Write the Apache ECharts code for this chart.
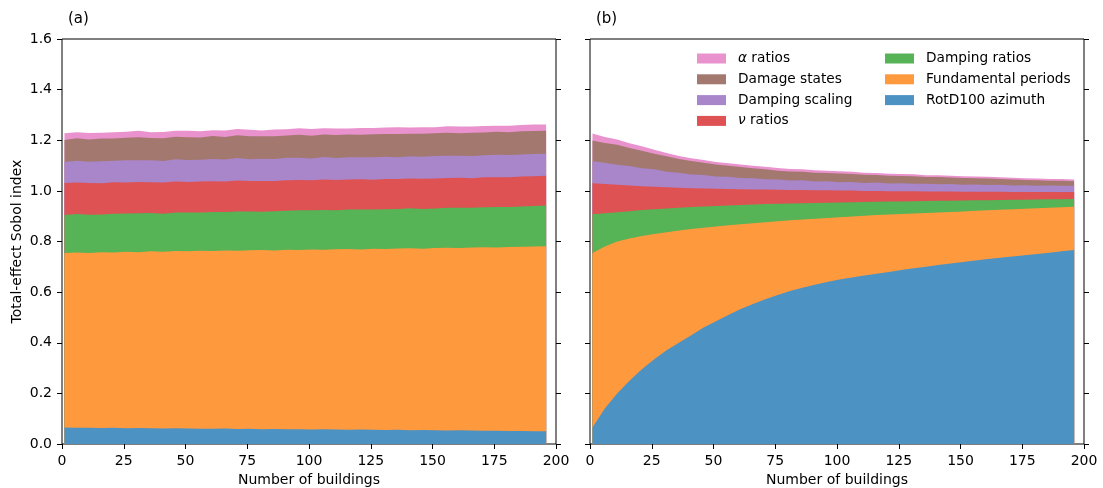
<!DOCTYPE html>
<html><head><meta charset="utf-8">
<script src="https://cdn.jsdelivr.net/npm/echarts@6/dist/echarts.min.js"></script>
<style>html,body{margin:0;padding:0;background:#fff}#c{width:1103px;height:488px}</style>
</head><body><div id="c"></div>
<script>
const buildings = [1,6,11,16,21,26,31,36,41,46,51,56,61,66,71,76,81,86,91,96,101,106,111,116,121,126,131,136,141,146,151,156,161,166,171,176,181,186,191,196];
const seriesNames = ['RotD100 azimuth','Fundamental periods','Damping ratios','ν ratios','Damping scaling','Damage states','α ratios'];
const colors = ['#4c92c3','#ff993e','#56b356','#de5253','#a985ca','#a3786f','#e992ce'];
const xTicks = [0,25,50,75,100,125,150,175,200];
const yTicks = [0,0.2,0.4,0.6,0.8,1.0,1.2,1.4,1.6];

// Panel (a) band thicknesses
const a_rotd = [0.065,0.064,0.064,0.063,0.064,0.062,0.063,0.062,0.061,0.062,0.061,0.060,0.060,0.061,0.059,0.060,0.058,0.059,0.058,0.058,0.057,0.058,0.057,0.056,0.057,0.056,0.055,0.056,0.054,0.055,0.054,0.053,0.054,0.053,0.052,0.052,0.051,0.051,0.050,0.050];
const a_period = [0.690,0.693,0.691,0.695,0.693,0.698,0.695,0.699,0.699,0.700,0.700,0.703,0.702,0.703,0.704,0.705,0.708,0.705,0.709,0.708,0.711,0.709,0.712,0.714,0.711,0.715,0.715,0.716,0.719,0.716,0.720,0.722,0.720,0.723,0.725,0.724,0.727,0.728,0.730,0.731];
const a_dampR = [0.150,0.152,0.151,0.149,0.153,0.151,0.154,0.152,0.150,0.153,0.154,0.152,0.155,0.153,0.156,0.154,0.152,0.156,0.154,0.157,0.155,0.157,0.154,0.156,0.158,0.155,0.157,0.156,0.158,0.157,0.156,0.158,0.159,0.157,0.158,0.160,0.158,0.159,0.160,0.161];
const a_nu = [0.126,0.124,0.125,0.123,0.124,0.122,0.123,0.121,0.123,0.122,0.120,0.122,0.121,0.120,0.122,0.120,0.121,0.119,0.121,0.120,0.119,0.121,0.120,0.119,0.120,0.118,0.120,0.119,0.118,0.120,0.119,0.118,0.119,0.117,0.119,0.118,0.118,0.119,0.118,0.118];
const a_dampS = [0.083,0.086,0.084,0.087,0.085,0.088,0.086,0.087,0.085,0.088,0.087,0.086,0.088,0.087,0.089,0.086,0.088,0.087,0.089,0.088,0.086,0.089,0.087,0.088,0.087,0.089,0.088,0.086,0.088,0.087,0.089,0.088,0.087,0.088,0.087,0.089,0.088,0.087,0.088,0.087];
const a_damage = [0.087,0.089,0.088,0.090,0.088,0.089,0.091,0.088,0.090,0.089,0.090,0.088,0.091,0.089,0.090,0.091,0.089,0.090,0.088,0.091,0.090,0.089,0.091,0.090,0.089,0.091,0.090,0.092,0.089,0.091,0.090,0.091,0.089,0.092,0.090,0.091,0.090,0.092,0.091,0.091];
const a_alpha = [0.027,0.024,0.026,0.023,0.025,0.024,0.026,0.023,0.025,0.024,0.026,0.025,0.023,0.026,0.024,0.025,0.023,0.026,0.024,0.025,0.026,0.024,0.025,0.023,0.026,0.024,0.025,0.026,0.024,0.025,0.023,0.025,0.026,0.024,0.025,0.023,0.025,0.024,0.025,0.024];

// Panel (b) band thicknesses
const b_rotd = [0.065,0.140,0.200,0.250,0.295,0.335,0.370,0.400,0.430,0.460,0.485,0.510,0.533,0.553,0.572,0.589,0.604,0.617,0.629,0.640,0.650,0.658,0.666,0.673,0.680,0.687,0.694,0.700,0.707,0.713,0.719,0.725,0.731,0.736,0.741,0.746,0.751,0.756,0.761,0.766];
const b_period = [0.690,0.640,0.600,0.562,0.527,0.495,0.467,0.443,0.419,0.394,0.374,0.354,0.335,0.319,0.304,0.291,0.280,0.270,0.261,0.253,0.246,0.241,0.236,0.232,0.227,0.222,0.217,0.213,0.208,0.204,0.200,0.196,0.192,0.189,0.186,0.183,0.180,0.177,0.174,0.171];
const b_dampR = [0.153,0.132,0.116,0.108,0.102,0.097,0.093,0.090,0.087,0.084,0.081,0.078,0.076,0.074,0.072,0.069,0.066,0.064,0.062,0.060,0.058,0.056,0.054,0.052,0.051,0.049,0.048,0.047,0.046,0.044,0.043,0.042,0.040,0.039,0.038,0.036,0.035,0.034,0.032,0.031];
const b_nu = [0.122,0.115,0.108,0.101,0.094,0.089,0.084,0.079,0.074,0.071,0.068,0.065,0.062,0.059,0.057,0.055,0.053,0.052,0.050,0.049,0.047,0.046,0.044,0.043,0.041,0.041,0.040,0.038,0.037,0.037,0.035,0.034,0.034,0.033,0.031,0.031,0.030,0.029,0.029,0.028];
const b_dampS = [0.087,0.084,0.079,0.077,0.071,0.069,0.062,0.060,0.055,0.054,0.049,0.049,0.045,0.045,0.041,0.041,0.038,0.039,0.035,0.036,0.033,0.034,0.031,0.033,0.030,0.031,0.029,0.030,0.028,0.029,0.027,0.028,0.026,0.027,0.025,0.026,0.024,0.025,0.024,0.024];
const b_damage = [0.082,0.078,0.079,0.071,0.070,0.062,0.061,0.054,0.053,0.048,0.047,0.043,0.043,0.039,0.039,0.035,0.036,0.034,0.035,0.033,0.035,0.032,0.033,0.030,0.031,0.029,0.030,0.027,0.029,0.026,0.027,0.025,0.026,0.023,0.024,0.021,0.022,0.019,0.020,0.018];
const b_alpha = [0.028,0.024,0.021,0.019,0.017,0.015,0.013,0.012,0.011,0.011,0.010,0.010,0.010,0.010,0.010,0.010,0.009,0.009,0.009,0.009,0.009,0.009,0.008,0.008,0.008,0.008,0.008,0.007,0.007,0.007,0.007,0.007,0.007,0.007,0.007,0.007,0.007,0.007,0.007,0.007];

const panelA = [a_rotd,a_period,a_dampR,a_nu,a_dampS,a_damage,a_alpha];
const panelB = [b_rotd,b_period,b_dampR,b_nu,b_dampS,b_damage,b_alpha];

const FONT = 'DejaVu Sans';
const FS = 14;
const chart = echarts.init(document.getElementById('c'), null, {renderer:'canvas'});

// Stacked areas: cumulative tops, each area filled down to the axis; the top-most band is drawn first
function mkSeries(panel, gi) {
  const cum = [];
  panel.forEach((vals, i) => {
    cum.push(vals.map((v, k) => (i ? cum[i-1][k] : 0) + v));
  });
  const out = [];
  for (let i = panel.length - 1; i >= 0; i--) {
    out.push({
      name: seriesNames[i], type: 'line', xAxisIndex: gi, yAxisIndex: gi*2,
      symbol: 'none', showSymbol: false, smooth: false,
      lineStyle: {width: 0, color: colors[i]}, itemStyle: {color: colors[i]},
      areaStyle: {color: colors[i], opacity: 1, origin: 'start'},
      emphasis: {disabled: true}, silent: true,
      data: buildings.map((x, k) => [x, +cum[i][k].toFixed(4)])
    });
  }
  return out;
}

function xAx(gi) {
  return {
    type: 'value', gridIndex: gi, min: 0, max: 200, interval: 25,
    axisLine: {show: false},
    axisTick: {show: true, inside: false, length: 5, lineStyle: {color: '#000', width: 1}},
    axisLabel: {color: '#000', fontFamily: FONT, fontSize: FS, margin: 10},
    splitLine: {show: false},
    name: 'Number of buildings', nameLocation: 'middle', nameGap: 28,
    nameTextStyle: {color: '#000', fontFamily: FONT, fontSize: FS}
  };
}
function yAx(gi, pos, labels, name) {
  const ax = {
    type: 'value', gridIndex: gi, position: pos, min: 0, max: 1.6, interval: 0.2,
    axisLine: {show: false},
    axisTick: {show: true, inside: false, length: 5, lineStyle: {color: '#000', width: 1}},
    axisLabel: {show: labels, color: '#000', fontFamily: FONT, fontSize: FS, margin: 10,
      formatter: v => v.toFixed(1)},
    splitLine: {show: false}
  };
  if (name) {
    ax.name = name; ax.nameLocation = 'middle'; ax.nameGap = 38;
    ax.nameTextStyle = {color: '#000', fontFamily: FONT, fontSize: FS};
  }
  return ax;
}

const legendText = {
  color: '#000', fontFamily: FONT, fontSize: 13.7, lineHeight: 15, padding: [0,0,0,7],
  rich: {g: {fontStyle: 'italic', fontFamily: FONT, fontSize: 13.7, color: '#000'}}
};
const legendFmt = n => n === 'α ratios' ? '{g|α} ratios' : (n === 'ν ratios' ? '{g|ν} ratios' : n);

chart.setOption({
  animation: false,
  backgroundColor: '#fff',
  title: [
    {text: '(a)', left: 63, top: 7, textStyle: {color: '#000', fontFamily: FONT, fontSize: 15, fontWeight: 'normal'}},
    {text: '(b)', left: 591, top: 7, textStyle: {color: '#000', fontFamily: FONT, fontSize: 15, fontWeight: 'normal'}}
  ],
  grid: [
    {left: 62, top: 39, width: 494, height: 405, show: true, borderColor: '#000', borderWidth: 1, backgroundColor: 'transparent', outerBoundsMode: 'none', containLabel: false},
    {left: 590, top: 39, width: 494, height: 405, show: true, borderColor: '#000', borderWidth: 1, backgroundColor: 'transparent', outerBoundsMode: 'none', containLabel: false}
  ],
  xAxis: [xAx(0), xAx(1)],
  yAxis: [yAx(0,'left',true,'Total-effect Sobol index'), yAx(0,'right',false), yAx(1,'left',false), yAx(1,'right',false)],
  legend: [
    {data: ['α ratios','Damage states','Damping scaling','ν ratios'], orient: 'vertical', left: 692, top: 46,
     itemWidth: 29, itemHeight: 10, itemGap: 5.8, icon: 'rect', textStyle: legendText, formatter: legendFmt,
     selectedMode: false},
    {data: ['Damping ratios','Fundamental periods','RotD100 azimuth'], orient: 'vertical', left: 880, top: 46,
     itemWidth: 29, itemHeight: 10, itemGap: 5.8, icon: 'rect', textStyle: legendText, formatter: legendFmt,
     selectedMode: false}
  ],
  series: [...mkSeries(panelA, 0), ...mkSeries(panelB, 1)]
});
</script>
</body></html>
